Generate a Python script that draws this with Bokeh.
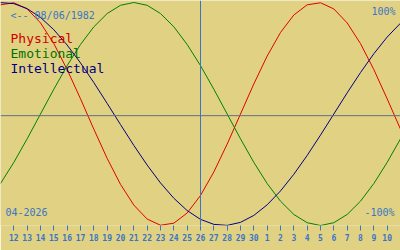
from bokeh.plotting import figure
from bokeh.models import Range1d, Span, Label, FixedTicker, ColumnDataSource
from bokeh.embed import file_html
from bokeh.resources import INLINE

# Day index 0 = 11 April 2026, index 30 = 11 May 2026
days = list(range(31))
tick_days = list(range(1, 30))
tick_labels = ["12", "13", "14", "15", "16", "17", "18", "19", "20", "21",
               "22", "23", "24", "25", "26", "27", "28", "29", "30", "1",
               "2", "3", "4", "5", "6", "7", "8", "9", "10"]

physical = [97.91, 99.77, 94.23, 81.70, 63.11, 39.84, 13.62, -13.62, -39.84, -63.11,
            -81.70, -94.23, -99.77, -97.91, -88.79, -73.08, -51.96, -26.98, 0.0, 26.98,
            51.96, 73.08, 88.79, 97.91, 99.77, 94.23, 81.70, 63.11, 39.84, 13.62, -13.62]
emotional = [-62.35, -43.39, -22.25, 0.0, 22.25, 43.39, 62.35, 78.18, 90.10, 97.49,
             100.0, 97.49, 90.10, 78.18, 62.35, 43.39, 22.25, 0.0, -22.25, -43.39,
             -62.35, -78.18, -90.10, -97.49, -100.0, -97.49, -90.10, -78.18, -62.35, -43.39, -22.25]
intellectual = [99.89, 98.98, 94.50, 86.60, 75.57, 61.82, 45.82, 28.17, 9.51, -9.51,
                -28.17, -45.82, -61.82, -75.57, -86.60, -94.50, -98.98, -99.89, -97.18, -90.96,
                -81.46, -69.01, -54.06, -37.17, -18.93, 0.0, 18.93, 37.17, 54.06, 69.01, 81.46]
today_index = 15
birth_text = "<-- 08/06/1982"
month_text = "04-2026"

BG = "#e0d282"
BLUE = "#3a74c8"
MONO = "DejaVu Sans Mono"

p = figure(width=400, height=250, output_backend="svg", toolbar_location=None,
           x_range=Range1d(0, 30), y_range=Range1d(-100, 101.79),
           min_border_left=0, min_border_right=0, min_border_top=0, min_border_bottom=25)
p.background_fill_color = BG
p.border_fill_color = BG
p.outline_line_color = None
p.grid.visible = False
p.yaxis.visible = False

xa = p.xaxis[0]
xa.ticker = FixedTicker(ticks=tick_days)
xa.major_label_overrides = {d: l for d, l in zip(tick_days, tick_labels)}
xa.axis_line_color = None
xa.major_tick_line_color = BLUE
xa.major_tick_in = 0
xa.major_tick_out = 5
xa.minor_tick_line_color = None
xa.major_label_text_font = MONO
xa.major_label_text_font_size = "8px"
xa.major_label_text_font_style = "bold"
xa.major_label_text_color = BLUE
xa.major_label_standoff = 3

p.add_layout(Span(location=-1.5, dimension="width", line_color="#607080", line_width=1))
p.add_layout(Span(location=today_index, dimension="height", line_color=BLUE, line_width=1))

src = ColumnDataSource(dict(x=days, phys=physical, emo=emotional, intel=intellectual))
p.line("x", "phys", source=src, line_color="#e00000", line_width=1)
p.line("x", "emo", source=src, line_color="#008000", line_width=1)
p.line("x", "intel", source=src, line_color="#000080", line_width=1)

def lab(x, y, text, color, size, align="left"):
    p.add_layout(Label(x=x, y=y, text=text, text_color=color, text_font=MONO,
                       text_font_size=size, text_align=align, text_baseline="alphabetic"))

lab(0.75, 88.0, birth_text, BLUE, "10px")
lab(0.75, 67.5, "Physical", "#d00000", "13px")
lab(0.75, 54.0, "Emotional", "#007000", "13px")
lab(0.75, 40.5, "Intellectual", "#000080", "13px")
lab(29.625, 91.5, "100%", BLUE, "10px", "right")
lab(29.55, -87.9, "-100%", BLUE, "10px", "right")
lab(0.375, -87.9, month_text, BLUE, "10px")

open("out.html", "w").write(file_html(p, INLINE))
